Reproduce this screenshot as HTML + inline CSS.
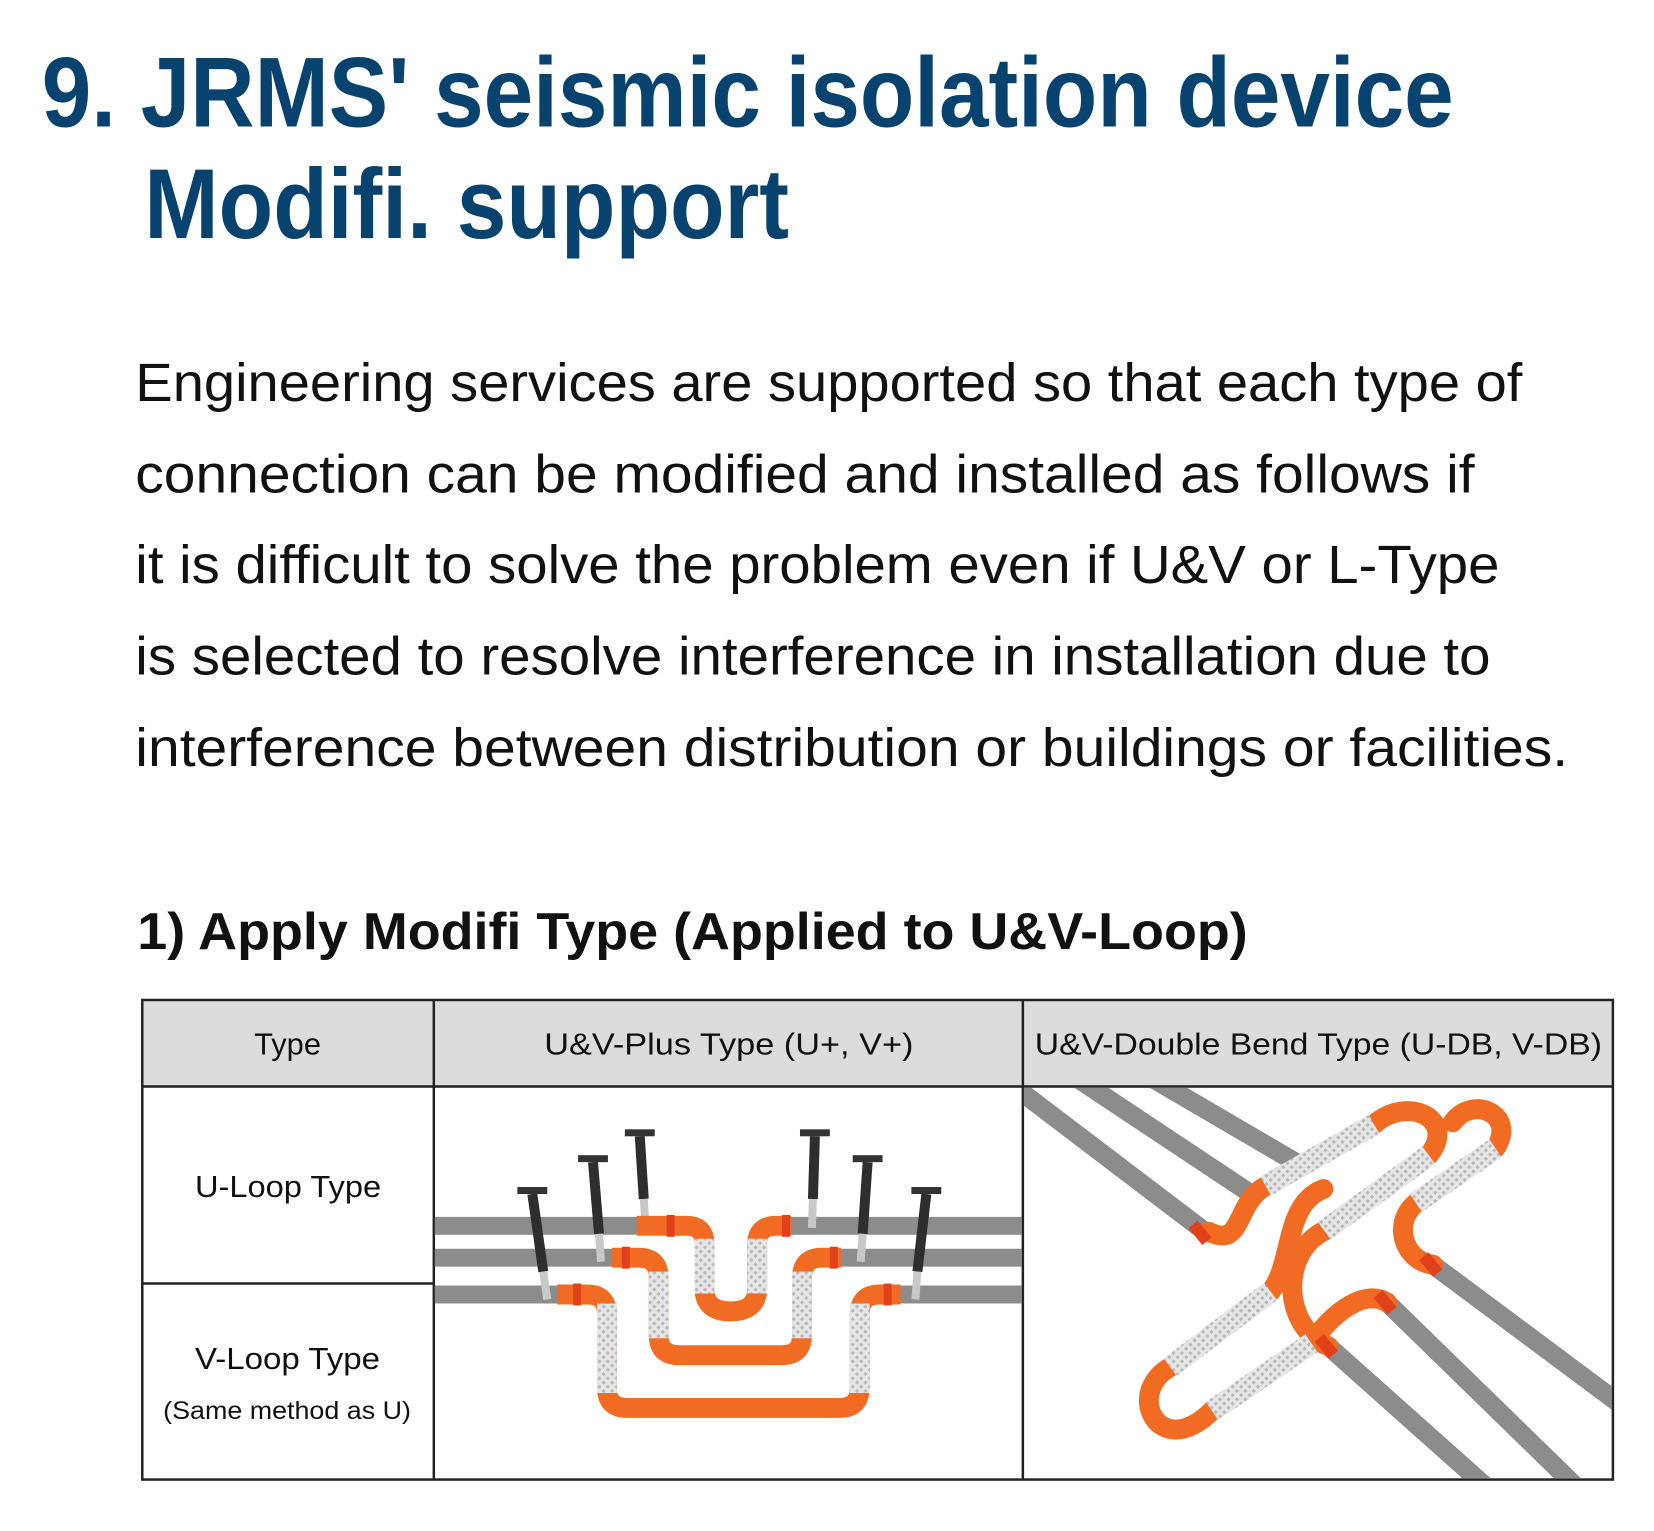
<!DOCTYPE html>
<html><head><meta charset="utf-8"><style>
html,body{margin:0;padding:0;background:#fff;}
svg{display:block;}
text{font-family:"Liberation Sans",sans-serif;}
</style></head><body>
<svg width="1654" height="1531" viewBox="0 0 1654 1531" xmlns="http://www.w3.org/2000/svg">
<defs>
<pattern id="br" width="6" height="6" patternUnits="userSpaceOnUse" patternTransform="rotate(45)">
<rect width="6" height="6" fill="#e6e6e6"/><rect width="3" height="3" fill="#b8b8b8"/>
</pattern>
<clipPath id="c2"><rect x="437" y="1093" width="590" height="393"/></clipPath>
<clipPath id="c3"><rect x="1029" y="1093" width="591" height="393"/></clipPath>
</defs>
<g transform="scale(0.995)">
<!-- Title -->
<g fill="#08426f" font-weight="bold" font-size="100">
<text x="42" y="127" textLength="1419" lengthAdjust="spacingAndGlyphs">9. JRMS' seismic isolation device</text>
<text x="145" y="239" textLength="648" lengthAdjust="spacingAndGlyphs">Modifi. support</text>
</g>
<!-- Paragraph -->
<g fill="#111" font-size="54">
<text x="136" y="403" textLength="1394" lengthAdjust="spacingAndGlyphs">Engineering services are supported so that each type of</text>
<text x="136" y="495" textLength="1346" lengthAdjust="spacingAndGlyphs">connection can be modified and installed as follows if</text>
<text x="136" y="586" textLength="1371" lengthAdjust="spacingAndGlyphs">it is difficult to solve the problem even if U&amp;V or L-Type</text>
<text x="136" y="678" textLength="1362" lengthAdjust="spacingAndGlyphs">is selected to resolve interference in installation due to</text>
<text x="136" y="770" textLength="1440" lengthAdjust="spacingAndGlyphs">interference between distribution or buildings or facilities.</text>
</g>
<text x="138" y="954" font-size="52" font-weight="bold" fill="#111" textLength="1116" lengthAdjust="spacingAndGlyphs">1) Apply Modifi Type (Applied to U&amp;V-Loop)</text>
<!-- Table -->
<rect x="143" y="1005" width="1478" height="87" fill="#dcdcdd"/>
<g stroke="#222" stroke-width="2.5" fill="none">
<rect x="143" y="1005" width="1478" height="482"/>
<line x1="143" y1="1092" x2="1621" y2="1092"/>
<line x1="436" y1="1005" x2="436" y2="1487"/>
<line x1="1028" y1="1005" x2="1028" y2="1487"/>
<line x1="143" y1="1290" x2="436" y2="1290"/>
</g>
<g fill="#111" font-size="31">
<text x="289" y="1060" text-anchor="middle">Type</text>
<text x="547" y="1060" textLength="371" lengthAdjust="spacingAndGlyphs">U&amp;V-Plus Type (U+, V+)</text>
<text x="1040" y="1060" textLength="570" lengthAdjust="spacingAndGlyphs">U&amp;V-Double Bend Type (U-DB, V-DB)</text>
<text x="196" y="1203" textLength="187" lengthAdjust="spacingAndGlyphs">U-Loop Type</text>
<text x="196" y="1376" textLength="186" lengthAdjust="spacingAndGlyphs">V-Loop Type</text>
<text x="164" y="1426" font-size="25" textLength="249" lengthAdjust="spacingAndGlyphs">(Same method as U)</text>
</g>
<!-- Middle illustration -->
<g clip-path="url(#c2)">
<g stroke="#8c8c8c" stroke-width="18">
<line x1="436" y1="1232" x2="660" y2="1232"/><line x1="790" y1="1232" x2="1028" y2="1232"/>
<line x1="436" y1="1264" x2="640" y2="1264"/><line x1="830" y1="1264" x2="1028" y2="1264"/>
<line x1="436" y1="1301" x2="585" y2="1301"/><line x1="885" y1="1301" x2="1028" y2="1301"/>
</g>
<g stroke-linecap="butt">
<g stroke="#2e2e2e" stroke-width="10">
<line x1="535" y1="1200" x2="546" y2="1278"/><line x1="596" y1="1168" x2="602" y2="1240"/>
<line x1="643" y1="1142" x2="647" y2="1205"/><line x1="819" y1="1142" x2="817" y2="1205"/>
<line x1="872" y1="1168" x2="867" y2="1240"/><line x1="931" y1="1200" x2="922" y2="1278"/>
</g>
<g stroke="#c8c8c8" stroke-width="8">
<line x1="546" y1="1278" x2="550" y2="1306"/><line x1="602" y1="1240" x2="604" y2="1268"/>
<line x1="647" y1="1205" x2="649" y2="1234"/><line x1="817" y1="1205" x2="816" y2="1234"/>
<line x1="867" y1="1240" x2="865" y2="1268"/><line x1="922" y1="1278" x2="920" y2="1306"/>
</g>
<g fill="#333">
<rect x="520" y="1193" width="30" height="7"/><rect x="581" y="1161" width="30" height="7"/>
<rect x="628" y="1135" width="30" height="7"/><rect x="804" y="1135" width="30" height="7"/>
<rect x="857" y="1161" width="30" height="7"/><rect x="916" y="1193" width="30" height="7"/>
</g>
</g>
<g fill="none" stroke="#f26b22" stroke-width="20" stroke-linejoin="round">
<path d="M640 1232 H690 Q708 1232 708 1250 V1295 Q708 1318 734 1318 Q761 1318 761 1295 V1250 Q761 1232 780 1232 H795"/>
<path d="M615 1264 H642 Q662 1264 662 1284 V1342 Q662 1362 682 1362 H786 Q806 1362 806 1342 V1284 Q806 1264 826 1264 H845"/>
<path d="M560 1301 H590 Q610 1301 610 1321 V1395 Q610 1415 630 1415 H844 Q864 1415 864 1395 V1321 Q864 1301 884 1301 H905"/>
</g>
<g stroke="url(#br)" stroke-width="20">
<line x1="708" y1="1245" x2="708" y2="1300"/><line x1="761" y1="1245" x2="761" y2="1300"/>
<line x1="662" y1="1278" x2="662" y2="1345"/><line x1="806" y1="1278" x2="806" y2="1345"/>
<line x1="610" y1="1310" x2="610" y2="1400"/><line x1="864" y1="1310" x2="864" y2="1400"/>
</g>
<g fill="#e0401a">
<rect x="670" y="1221" width="8" height="22"/><rect x="786" y="1221" width="8" height="22"/>
<rect x="625" y="1253" width="8" height="22"/><rect x="834" y="1253" width="8" height="22"/>
<rect x="576" y="1290" width="8" height="22"/><rect x="888" y="1290" width="8" height="22"/>
</g>
</g>
<!-- Right illustration -->
<g clip-path="url(#c3)">
<g stroke="#8c8c8c" stroke-width="19" stroke-linecap="round">
<line x1="1010" y1="1085" x2="1210" y2="1237"/>
<line x1="1080" y1="1082" x2="1256" y2="1199"/>
<line x1="1155" y1="1082" x2="1302" y2="1168"/>
<line x1="1335" y1="1353" x2="1500" y2="1500"/>
<line x1="1394" y1="1309" x2="1590" y2="1500"/>
<line x1="1440" y1="1271" x2="1640" y2="1420"/>
</g>
<g fill="none" stroke="#f26b22" stroke-width="20" stroke-linecap="round">
<path d="M1381 1130 C1415 1100 1465 1125 1436 1161"/>
<path d="M1503 1154 C1525 1120 1480 1100 1460 1128"/>
<path d="M1176 1374 C1130 1400 1165 1470 1218 1418"/>
<path d="M1272 1192 C1240 1210 1250 1255 1215 1238"/>
<path d="M1331 1237 C1285 1260 1290 1335 1335 1353"/>
<path d="M1318 1350 C1340 1318 1372 1295 1394 1309"/>
<path d="M1423 1209 C1398 1230 1412 1268 1440 1271"/>
<path d="M1277 1298 C1300 1270 1290 1210 1330 1195"/>
</g>
<g stroke="url(#br)" stroke-width="22">
<line x1="1272" y1="1192" x2="1381" y2="1130"/>
<line x1="1331" y1="1237" x2="1436" y2="1161"/>
<line x1="1423" y1="1209" x2="1503" y2="1154"/>
<line x1="1176" y1="1374" x2="1277" y2="1298"/>
<line x1="1218" y1="1418" x2="1318" y2="1350"/>
</g>
<g fill="#e0401a">
<rect x="1200" y="1228" width="12" height="22" transform="rotate(-40 1206 1239)"/>
<rect x="1327" y="1342" width="12" height="22" transform="rotate(-40 1333 1353)"/>
<rect x="1386" y="1298" width="12" height="22" transform="rotate(-40 1392 1309)"/>
<rect x="1432" y="1260" width="12" height="22" transform="rotate(-40 1438 1271)"/>
</g>
</g>
</g>
</svg>
</body></html>
